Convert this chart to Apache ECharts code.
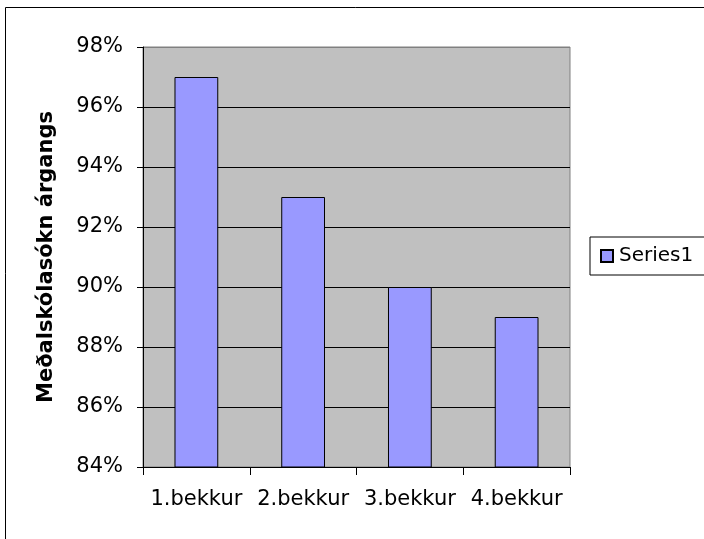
<!DOCTYPE html>
<html>
<head>
<meta charset="utf-8">
<script src="https://cdn.jsdelivr.net/npm/echarts@6/dist/echarts.min.js"></script>
<style>
  html, body { margin: 0; padding: 0; background: #fff; }
  #chart { width: 704px; height: 539px; }
</style>
</head>
<body>
<div id="chart"></div>
<script>
const categories = ['1.bekkur', '2.bekkur', '3.bekkur', '4.bekkur']
const seriesName = 'Series1'
const values = [97, 93, 90, 89]
const yTitle = 'Meðalskólasókn árgangs'

const myChart = echarts.init(document.getElementById('chart'))
const font = 'DejaVu Sans, sans-serif'

// top gridline is the grey plot border in the original
const gridColors = ['#000', '#000', '#000', '#000', '#000', '#000', '#000', '#808080']

const option = {
  animation: false,
  textStyle: { fontFamily: font },
  graphic: [
    {
      type: 'rect',
      shape: { x: 5.5, y: 7.5, width: 720, height: 560 },
      style: { fill: 'none', stroke: '#000', lineWidth: 1 }
    }
  ],
  grid: {
    left: 143, top: 47, width: 427, height: 420,
    show: true,
    backgroundColor: '#C0C0C0',
    borderColor: '#808080',
    borderWidth: 1
  },
  legend: {
    left: 590, top: 237,
    padding: [9, 30, 9, 10],
    borderColor: '#000',
    borderWidth: 1,
    itemWidth: 12, itemHeight: 12,
    itemGap: 4,
    textStyle: { fontSize: 20, color: '#000', fontFamily: font, padding: [0, 0, 0, 1] },
    data: [{ name: seriesName, icon: 'rect' }]
  },
  xAxis: {
    type: 'category',
    data: categories,
    boundaryGap: true,
    axisLine: { lineStyle: { color: '#000' } },
    axisTick: { show: true, length: 8, alignWithLabel: false, lineStyle: { color: '#000' } },
    axisLabel: { fontSize: 21, color: '#000', margin: 22, interval: 0, fontFamily: font },
    splitLine: { show: false }
  },
  yAxis: {
    type: 'value',
    min: 84, max: 98, interval: 2,
    name: yTitle,
    nameLocation: 'middle',
    nameGap: 86,
    nameTextStyle: { fontSize: 21, fontWeight: 'bold', color: '#000', fontFamily: font },
    axisLine: { show: true, lineStyle: { color: '#000' } },
    axisTick: { show: true, length: 6, lineStyle: { color: '#000' } },
    axisLabel: { fontSize: 21, color: '#000', margin: 20, formatter: '{value}%', fontFamily: font },
    splitLine: { show: true, lineStyle: { color: gridColors, width: 1 } }
  },
  series: [
    {
      name: seriesName,
      type: 'bar',
      data: values,
      barWidth: '41%',
      itemStyle: { color: '#9999FF', borderColor: '#000', borderWidth: 1 }
    }
  ]
}

myChart.setOption(option)
</script>
</body>
</html>
